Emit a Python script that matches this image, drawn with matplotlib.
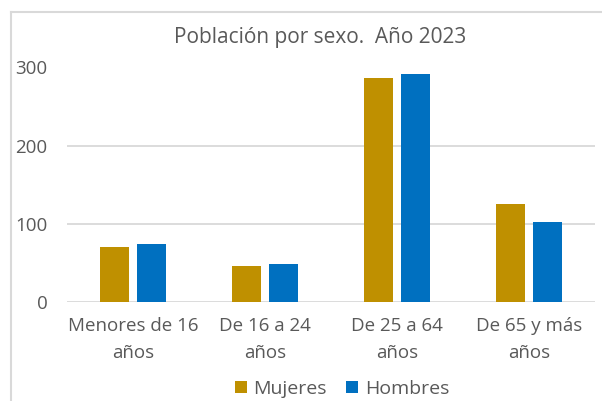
import matplotlib.pyplot as plt
import numpy as np
from matplotlib.lines import Line2D

# Data
categories = ["Menores de 16\naños", "De 16 a 24\naños", "De 25 a 64\naños", "De 65 y más\naños"]
mujeres = [70, 46, 286, 125]
hombres = [74, 48, 292, 102]
y_ticks = [0, 100, 200, 300]

GOLD = "#BF9000"
BLUE = "#0070C0"
TEXT = "#595959"
GRID = "#D9D9D9"

plt.rcParams["font.family"] = ["Open Sans", "DejaVu Sans"]

fig = plt.figure(figsize=(6.02, 4.01), dpi=100)
ax = fig.add_axes([67 / 602, 1 - 301.7 / 401, (595 - 67) / 602, (301.7 - 67.5) / 401])

x = np.arange(len(categories))
width = 0.223
offset = 0.14
ax.bar(x - offset, mujeres, width, color=GOLD, label="Mujeres", zorder=3)
ax.bar(x + offset, hombres, width, color=BLUE, label="Hombres", zorder=3)

ax.set_xlim(-0.5, len(categories) - 0.5)
ax.set_ylim(0, 300)
ax.set_yticks(y_ticks)
ax.set_xticks(x)
ax.set_xticklabels(categories, fontsize=13.5, color=TEXT, linespacing=1.65)
ax.tick_params(axis="y", labelsize=13.5, colors=TEXT, length=0, pad=14)
ax.tick_params(axis="x", length=0, pad=11)
ax.grid(axis="y", color=GRID, linewidth=1.3, zorder=0)
ax.set_axisbelow(True)
for side in ["top", "right", "left", "bottom"]:
    ax.spines[side].set_visible(False)

fig.text(320 / 602, 1 - 37 / 401, "Población por sexo.  Año 2023",
         ha="center", va="center", fontsize=15, color=TEXT)

fig.legend(loc="center", bbox_to_anchor=(342 / 602, 1 - 389 / 401), ncol=2,
           frameon=False, fontsize=14, handlelength=0.6, handleheight=0.6,
           handletextpad=0.35, columnspacing=1.0, labelcolor=TEXT)

# outer chart frame (runs off the right and bottom edges)
frame_x = 10.5 / 602
frame_y = 1 - 11.5 / 401
fig.add_artist(Line2D([frame_x, frame_x], [0, frame_y], transform=fig.transFigure,
                      color=GRID, linewidth=1.5))
fig.add_artist(Line2D([frame_x, 1], [frame_y, frame_y], transform=fig.transFigure,
                      color=GRID, linewidth=1.5))

fig.savefig("out.png", dpi=100)
